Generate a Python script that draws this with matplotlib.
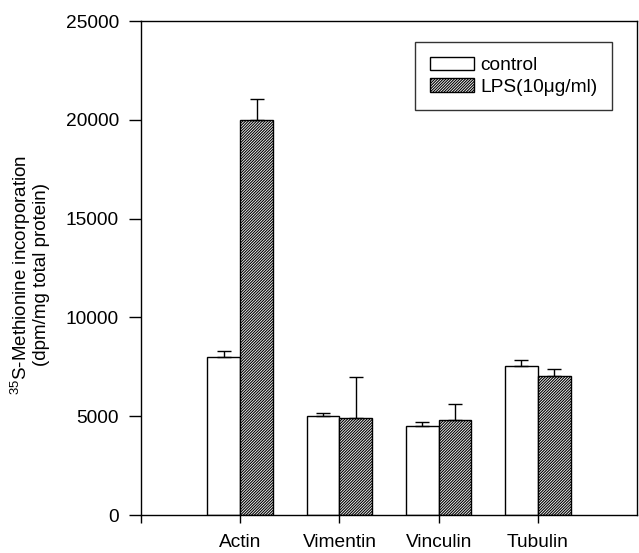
import matplotlib
matplotlib.use("Agg")
import matplotlib.pyplot as plt
import numpy as np

plt.rcParams['font.family'] = ['Liberation Sans', 'DejaVu Sans']
plt.rcParams['mathtext.fontset'] = 'custom'
plt.rcParams['mathtext.rm'] = 'Liberation Sans'
plt.rcParams['mathtext.it'] = 'Liberation Sans'
plt.rcParams['hatch.linewidth'] = 0.8
plt.rcParams['hatch.color'] = '#222222'

categories = ['Actin', 'Vimentin', 'Vinculin', 'Tubulin']
control = [8000, 5000, 4500, 7550]
control_err = [300, 150, 200, 300]
lps = [20000, 4900, 4800, 7050]
lps_err = [1050, 2080, 820, 330]
yticks = [0, 5000, 10000, 15000, 20000, 25000]

FS = 13.8

fig = plt.figure(figsize=(6.39, 5.53), dpi=100)
ax = fig.add_axes([0.2207, 0.0687, 0.7762, 0.8933])

x = np.arange(1, len(categories) + 1)
w = 0.33
ax.bar(x - w/2, control, w, color='white', edgecolor='black', linewidth=1.0,
       yerr=[np.zeros(len(control)), control_err], capsize=5,
       error_kw=dict(elinewidth=1.0, capthick=1.0, ecolor='black'), label='control')
ax.bar(x + w/2, lps, w, color='white', edgecolor='black', linewidth=1.0, hatch='/' * 12,
       yerr=[np.zeros(len(lps)), lps_err], capsize=5,
       error_kw=dict(elinewidth=1.0, capthick=1.0, ecolor='black'), label='LPS(10μg/ml)')

ax.set_xlim(0, 5)
ax.set_ylim(0, 25000)
ax.set_yticks(yticks)
ax.set_yticklabels([str(t) for t in yticks], fontsize=FS)
ax.set_xticks([0] + list(x))
ax.set_xticklabels([''] + categories, fontsize=FS)
ax.tick_params(axis='x', direction='out', length=6, width=1, pad=8)
ax.tick_params(axis='y', direction='out', length=9, width=1, pad=7)
for s in ax.spines.values():
    s.set_linewidth(1.0)

ax.set_ylabel('$^{35}$S-Methionine incorporation\n(dpm/mg total protein)', fontsize=13.5,
              linespacing=1.0)
ax.yaxis.set_label_coords(-0.183, 0.486)

leg = ax.legend(loc='upper right', bbox_to_anchor=(0.9496, 0.957), borderaxespad=0,
                frameon=True, fancybox=False,
                edgecolor='black', fontsize=FS, handlelength=2.3, handleheight=0.7,
                borderpad=0.75, labelspacing=0.22, handletextpad=0.35)
leg.get_frame().set_linewidth(1.0)

fig.savefig('out.png', dpi=100)
